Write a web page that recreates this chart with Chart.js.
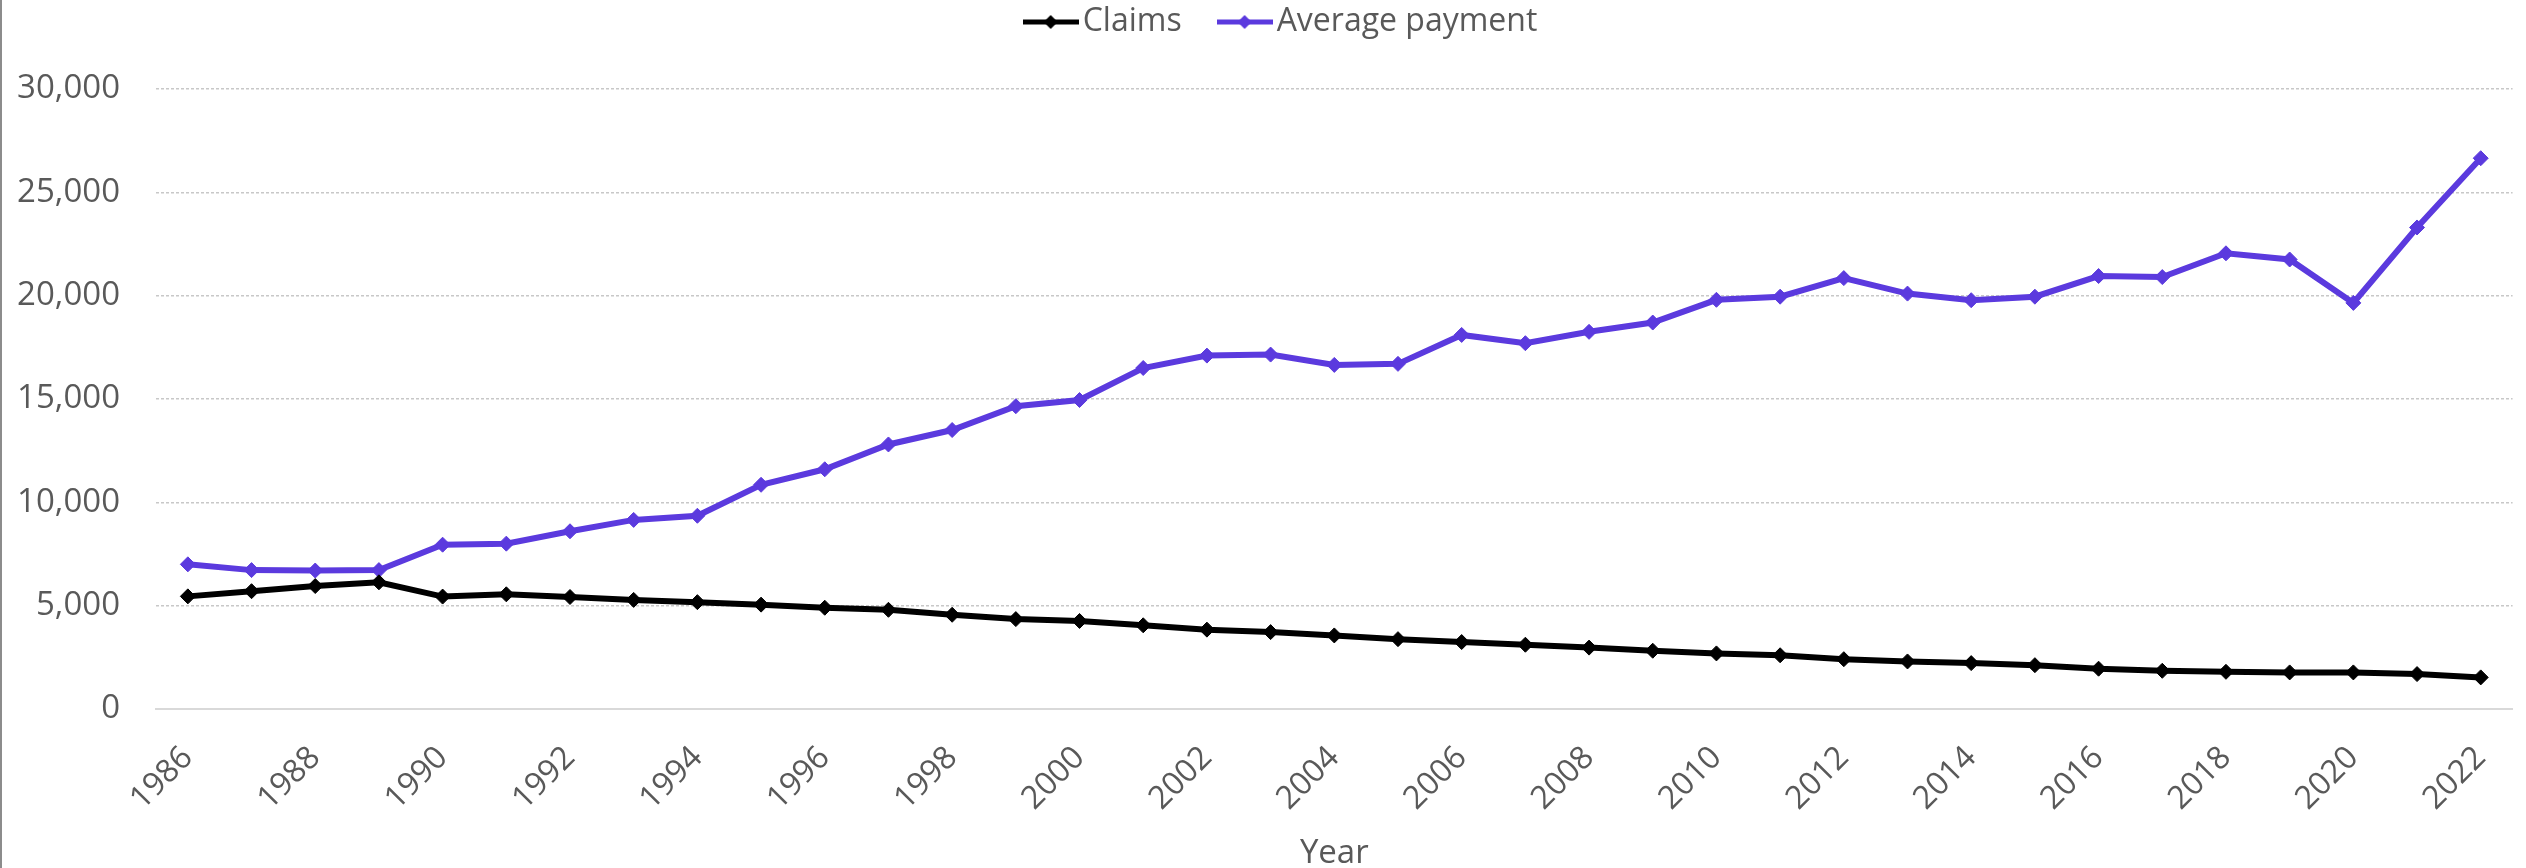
<!DOCTYPE html>
<html>
<head>
<meta charset="utf-8">
<script src="https://cdn.jsdelivr.net/npm/chart.js@4.4.1/dist/chart.umd.min.js"></script>
<style>
  html, body { margin: 0; background: #fff; overflow: hidden; }
  #wrap { position: relative; width: 2526px; height: 868px; overflow: hidden; }
  #edge { position: absolute; left: 0; top: 0; width: 2px; height: 868px; background: #8c8c8c; }
</style>
</head>
<body>
<div id="wrap"><canvas id="myChart" width="2530" height="868"></canvas><div id="edge"></div></div>
<script>
// data
const years = ['1986', '1987', '1988', '1989', '1990', '1991', '1992', '1993', '1994', '1995',
  '1996', '1997', '1998', '1999', '2000', '2001', '2002', '2003', '2004', '2005',
  '2006', '2007', '2008', '2009', '2010', '2011', '2012', '2013', '2014', '2015',
  '2016', '2017', '2018', '2019', '2020', '2021', '2022'];
const claims = [5450, 5700, 5950, 6130, 5440, 5550, 5420, 5280, 5170, 5050,
  4900, 4800, 4560, 4350, 4260, 4050, 3840, 3720, 3560, 3380,
  3240, 3110, 2970, 2820, 2690, 2600, 2410, 2300, 2220, 2120,
  1950, 1850, 1800, 1770, 1770, 1690, 1530];
const averagePayment = [7000, 6720, 6700, 6720, 7950, 8000, 8600, 9150, 9350, 10850,
  11600, 12800, 13500, 14650, 14950, 16500, 17100, 17150, 16650, 16700,
  18100, 17700, 18250, 18700, 19800, 19950, 20850, 20100, 19780, 19950,
  20950, 20900, 22050, 21750, 19650, 23300, 26650];
const yTickValues = [0, 5000, 10000, 15000, 20000, 25000, 30000];

const textColor = '#595959';
const claimsColor = '#000000';
const paymentColor = '#5b3ade';

Chart.defaults.font.family = "'Open Sans', sans-serif";

// legend sample: short line with a diamond, like the original
function legendSample(color) {
  const c = document.createElement('canvas');
  c.width = 56; c.height = 16;
  const g = c.getContext('2d');
  g.strokeStyle = color; g.lineWidth = 5;
  g.beginPath(); g.moveTo(0, 8); g.lineTo(56, 8); g.stroke();
  g.fillStyle = color;
  g.beginPath(); g.moveTo(28, 1); g.lineTo(35, 8); g.lineTo(28, 15); g.lineTo(21, 8); g.closePath(); g.fill();
  return c;
}
const samples = [legendSample(claimsColor), legendSample(paymentColor)];

// keep the legend box 89px tall and nudge it into place
const legendSpace = {
  id: 'legendSpace',
  beforeInit(chart) {
    const legend = chart.legend;
    const fit = legend.fit;
    legend.fit = function () { fit.call(this); this.height = 89; };
    const draw = legend.draw;
    legend.draw = function () {
      const ctx = this.ctx;
      ctx.save(); ctx.translate(21, -41);
      draw.call(this);
      ctx.restore();
    };
  }
};

const ctx = document.getElementById('myChart').getContext('2d');
const myChart = new Chart(ctx, {
  type: 'line',
  data: {
    labels: years,
    datasets: [{
      label: 'Claims',
      data: claims,
      borderColor: claimsColor,
      backgroundColor: claimsColor,
      borderWidth: 6,
      pointStyle: 'rectRot',
      pointRadius: 7.5,
      pointBorderWidth: 1,
      tension: 0
    }, {
      label: 'Average payment',
      data: averagePayment,
      borderColor: paymentColor,
      backgroundColor: paymentColor,
      borderWidth: 6,
      pointStyle: 'rectRot',
      pointRadius: 7.5,
      pointBorderWidth: 1,
      tension: 0
    }]
  },
  options: {
    responsive: false,
    devicePixelRatio: 1,
    animation: false,
    layout: { padding: 0 },
    plugins: {
      tooltip: { enabled: false },
      legend: {
        position: 'top',
        labels: {
          usePointStyle: true,
          pointStyleWidth: 32,
          padding: 47,
          color: textColor,
          font: { size: 32 },
          generateLabels(chart) {
            const items = Chart.defaults.plugins.legend.labels.generateLabels(chart);
            items.forEach((it, i) => { it.pointStyle = samples[i]; });
            return items;
          }
        }
      }
    },
    scales: {
      x: {
        offset: true,
        grid: { display: false },
        border: { display: true, color: '#d9d9d9', width: 2 },
        ticks: {
          autoSkip: false,
          minRotation: 45,
          maxRotation: 45,
          padding: 22,
          color: textColor,
          font: { size: 32 },
          callback: (v, i) => (i % 2 === 0 ? years[i] : '')
        },
        title: { display: true, text: 'Year', color: textColor, font: { size: 33 }, padding: { top: 0, bottom: -5 } },
        afterFit(s) { s.height = 159; }
      },
      y: {
        min: 0,
        max: 30000,
        afterBuildTicks(s) { s.ticks = yTickValues.map(v => ({ value: v })); },
        ticks: {
          padding: 36,
          color: textColor,
          font: { size: 33 },
          callback: v => v.toLocaleString('en-US')
        },
        grid: { color: '#c8c8c8', lineWidth: 1.5, drawTicks: false },
        border: { display: false, dash: [3, 2] },
        afterFit(s) { s.width = 156; }
      }
    }
  },
  plugins: [legendSpace]
});
</script>
</body>
</html>
